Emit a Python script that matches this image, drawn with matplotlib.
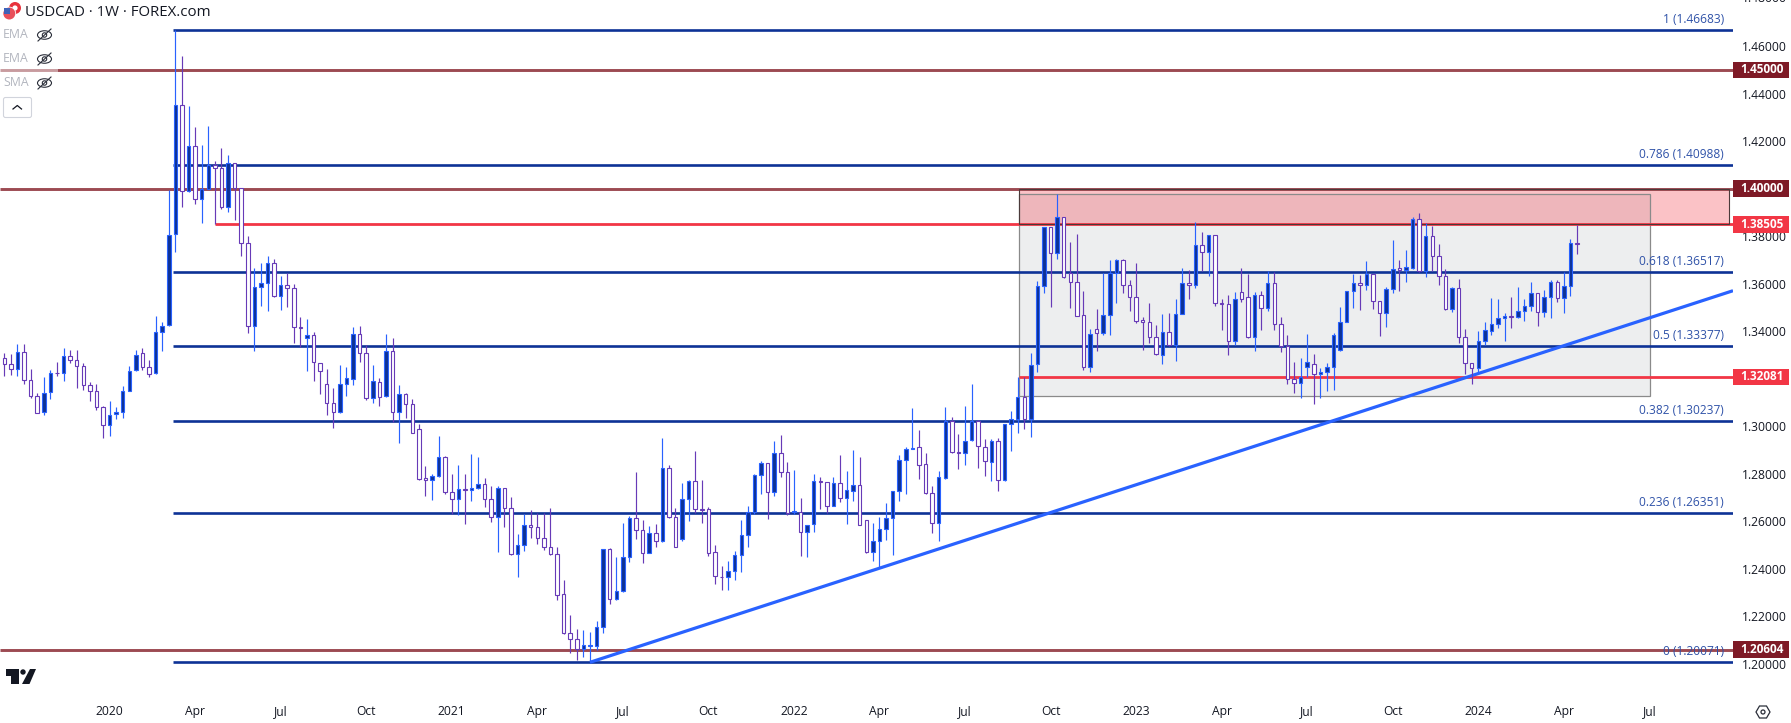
import matplotlib
matplotlib.use('Agg')
import matplotlib.pyplot as plt
from matplotlib.patches import Rectangle, Circle, Ellipse, Polygon, FancyBboxPatch

plt.rcParams['font.family'] = ['Open Sans', 'DejaVu Sans']

opens = [1.3287,1.3262,1.3241,1.3312,1.3194,1.3128,1.3060,1.3144,1.3226,1.3224,
	1.3298,1.3278,1.3253,1.3173,1.3148,1.3081,1.3005,1.3051,1.3062,1.3149,
	1.3236,1.3308,1.3252,1.3224,1.3396,1.3426,1.3809,1.4354,1.3990,1.4178,
	1.3956,1.3999,1.4102,1.4087,1.3925,1.4110,1.4005,1.3771,1.3422,1.3588,
	1.3605,1.3687,1.3548,1.3594,1.3582,1.3418,1.3370,1.3384,1.3266,1.3177,
	1.3097,1.3062,1.3177,1.3201,1.3388,1.3308,1.3121,1.3186,1.3127,1.3319,
	1.3060,1.3135,1.3096,1.2988,1.2781,1.2773,1.2790,1.2870,1.2725,1.2693,
	1.2735,1.2734,1.2739,1.2756,1.2693,1.2617,1.2739,1.2655,1.2461,1.2499,
	1.2583,1.2575,1.2529,1.2494,1.2461,1.2293,1.2129,1.2104,1.2065,1.2077,
	1.2077,1.2157,1.2482,1.2272,1.2309,1.2449,1.2613,1.2562,1.2468,1.2553,
	1.2516,1.2823,1.2617,1.2525,1.2693,1.2769,1.2651,1.2651,1.2470,1.2367,
	1.2365,1.2390,1.2457,1.2541,1.2638,1.2794,1.2844,1.2722,1.2886,1.2807,
	1.2638,1.2641,1.2554,1.2588,1.2769,1.2764,1.2666,1.2760,1.2700,1.2729,
	1.2752,1.2604,1.2473,1.2516,1.2567,1.2613,1.2727,1.2857,1.2906,1.2912,
	1.2840,1.2718,1.2595,1.2784,1.3024,1.2891,1.2886,1.2941,1.3024,1.2915,
	1.2852,1.2937,1.2773,1.3009,1.3033,1.3125,1.3030,1.3261,1.3589,1.3838,
	1.3731,1.3880,1.3644,1.3606,1.3467,1.3251,1.3408,1.3394,1.3467,1.3644,
	1.3699,1.3594,1.3543,1.3446,1.3438,1.3375,1.3299,1.3399,1.3341,1.3474,
	1.3605,1.3596,1.3762,1.3732,1.3804,1.3518,1.3514,1.3361,1.3564,1.3546,
	1.3375,1.3554,1.3497,1.3602,1.3429,1.3340,1.3198,1.3181,1.3248,1.3264,
	1.3219,1.3227,1.3251,1.3320,1.3441,1.3571,1.3602,1.3594,1.3640,1.3526,
	1.3479,1.3577,1.3665,1.3657,1.3667,1.3871,1.3653,1.3800,1.3716,1.3632,
	1.3495,1.3581,1.3378,1.3265,1.3247,1.3358,1.3403,1.3429,1.3455,1.3463,
	1.3459,1.3484,1.3505,1.3560,1.3483,1.3543,1.3606,1.3539,1.3589,1.3770]
closes = [1.3262,1.3241,1.3312,1.3194,1.3126,1.3058,1.3142,1.3226,1.3224,1.3298,
	1.3278,1.3253,1.3173,1.3148,1.3081,1.3005,1.3050,1.3062,1.3151,1.3235,
	1.3302,1.3249,1.3220,1.3396,1.3424,1.3807,1.4354,1.3990,1.4178,1.3956,
	1.3998,1.4102,1.4087,1.3925,1.4110,1.4005,1.3771,1.3422,1.3588,1.3605,
	1.3687,1.3548,1.3594,1.3582,1.3418,1.3412,1.3384,1.3270,1.3232,1.3097,
	1.3062,1.3177,1.3203,1.3388,1.3308,1.3119,1.3189,1.3123,1.3319,1.3060,
	1.3135,1.3093,1.2971,1.2780,1.2773,1.2790,1.2870,1.2725,1.2693,1.2735,
	1.2734,1.2739,1.2756,1.2693,1.2617,1.2739,1.2655,1.2461,1.2499,1.2583,
	1.2575,1.2529,1.2494,1.2461,1.2289,1.2129,1.2104,1.2065,1.2078,1.2078,
	1.2157,1.2482,1.2272,1.2309,1.2449,1.2613,1.2562,1.2468,1.2553,1.2516,
	1.2823,1.2617,1.2494,1.2693,1.2769,1.2651,1.2649,1.2468,1.2369,1.2365,
	1.2390,1.2457,1.2541,1.2638,1.2794,1.2844,1.2722,1.2886,1.2807,1.2637,
	1.2642,1.2554,1.2586,1.2769,1.2767,1.2666,1.2760,1.2700,1.2731,1.2752,
	1.2586,1.2473,1.2516,1.2567,1.2613,1.2727,1.2857,1.2906,1.2910,1.2839,
	1.2718,1.2595,1.2785,1.3024,1.2891,1.2886,1.2940,1.3024,1.2916,1.2853,
	1.2937,1.2773,1.3009,1.3033,1.3125,1.3030,1.3260,1.3589,1.3838,1.3731,
	1.3880,1.3627,1.3606,1.3466,1.3251,1.3387,1.3394,1.3467,1.3644,1.3699,
	1.3593,1.3543,1.3445,1.3438,1.3378,1.3306,1.3399,1.3341,1.3474,1.3605,
	1.3596,1.3762,1.3732,1.3804,1.3518,1.3516,1.3361,1.3537,1.3535,1.3375,
	1.3554,1.3497,1.3602,1.3429,1.3340,1.3198,1.3181,1.3206,1.3272,1.3219,
	1.3227,1.3251,1.3383,1.3441,1.3571,1.3602,1.3594,1.3640,1.3526,1.3479,
	1.3577,1.3664,1.3657,1.3669,1.3871,1.3653,1.3800,1.3716,1.3632,1.3495,
	1.3581,1.3378,1.3265,1.3247,1.3358,1.3404,1.3429,1.3455,1.3463,1.3462,
	1.3484,1.3505,1.3560,1.3483,1.3543,1.3606,1.3539,1.3589,1.3770,1.3768]
highs = [1.3308,1.3305,1.3346,1.3346,1.3242,1.3142,1.3207,1.3238,1.3270,1.3329,
	1.3322,1.3322,1.3266,1.3186,1.3179,1.3084,1.3107,1.3081,1.3172,1.3255,
	1.3322,1.3329,1.3280,1.3465,1.3440,1.3995,1.4668,1.4559,1.4349,1.4260,
	1.4185,1.4265,1.4116,1.4172,1.4143,1.4110,1.4005,1.3802,1.3666,1.3687,
	1.3718,1.3704,1.3633,1.3647,1.3600,1.3459,1.3451,1.3398,1.3266,1.3242,
	1.3162,1.3259,1.3249,1.3420,1.3423,1.3343,1.3259,1.3203,1.3389,1.3372,
	1.3175,1.3142,1.3116,1.3010,1.2833,1.2800,1.2960,1.2875,1.2800,1.2837,
	1.2800,1.2884,1.2872,1.2781,1.2749,1.2749,1.2739,1.2703,1.2547,1.2631,
	1.2648,1.2637,1.2634,1.2656,1.2492,1.2353,1.2206,1.2147,1.2143,1.2135,
	1.2181,1.2482,1.2488,1.2452,1.2592,1.2623,1.2808,1.2606,1.2581,1.2589,
	1.2951,1.2837,1.2656,1.2762,1.2774,1.2896,1.2774,1.2659,1.2501,1.2412,
	1.2432,1.2477,1.2606,1.2665,1.2799,1.2854,1.2847,1.2938,1.2964,1.2850,
	1.2816,1.2698,1.2586,1.2800,1.2785,1.2764,1.2785,1.2879,1.2812,1.2900,
	1.2871,1.2606,1.2592,1.2618,1.2677,1.2728,1.2878,1.2914,1.3076,1.2985,
	1.2886,1.2749,1.2812,1.3080,1.3038,1.2968,1.3086,1.3178,1.3027,1.2945,
	1.2945,1.2950,1.3009,1.3065,1.3206,1.3206,1.3307,1.3612,1.3838,1.3838,
	1.3978,1.3880,1.3776,1.3810,1.3570,1.3410,1.3494,1.3647,1.3700,1.3704,
	1.3704,1.3616,1.3686,1.3462,1.3518,1.3427,1.3473,1.3476,1.3535,1.3667,
	1.3658,1.3860,1.3818,1.3804,1.3804,1.3535,1.3551,1.3566,1.3667,1.3641,
	1.3566,1.3568,1.3652,1.3650,1.3460,1.3385,1.3271,1.3288,1.3389,1.3305,
	1.3246,1.3268,1.3392,1.3502,1.3571,1.3641,1.3637,1.3696,1.3640,1.3526,
	1.3585,1.3784,1.3700,1.3742,1.3883,1.3898,1.3855,1.3843,1.3768,1.3662,
	1.3585,1.3620,1.3408,1.3265,1.3400,1.3441,1.3539,1.3536,1.3476,1.3543,
	1.3585,1.3535,1.3606,1.3560,1.3574,1.3616,1.3616,1.3650,1.3789,1.3848]
lows = [1.3214,1.3217,1.3210,1.3177,1.3121,1.3055,1.3046,1.3117,1.3214,1.3193,
	1.3266,1.3163,1.3154,1.3105,1.3067,1.2953,1.2961,1.3033,1.3037,1.3148,
	1.3235,1.3239,1.3206,1.3222,1.3319,1.3424,1.3732,1.3925,1.3988,1.3934,
	1.3858,1.3998,1.3852,1.3914,1.3904,1.3869,1.3715,1.3395,1.3319,1.3507,
	1.3487,1.3546,1.3490,1.3504,1.3353,1.3336,1.3235,1.3193,1.3137,1.3050,
	1.2995,1.3055,1.3128,1.3175,1.3269,1.3112,1.3100,1.3084,1.3125,1.3020,
	1.2932,1.3037,1.2971,1.2774,1.2707,1.2690,1.2788,1.2717,1.2631,1.2627,
	1.2589,1.2687,1.2738,1.2662,1.2598,1.2471,1.2578,1.2460,1.2367,1.2477,
	1.2530,1.2505,1.2480,1.2460,1.2269,1.2128,1.2048,1.2017,1.2031,1.2007,
	1.2059,1.2132,1.2252,1.2271,1.2303,1.2429,1.2526,1.2425,1.2467,1.2492,
	1.2515,1.2616,1.2492,1.2518,1.2603,1.2634,1.2595,1.2456,1.2336,1.2311,
	1.2311,1.2353,1.2387,1.2494,1.2633,1.2715,1.2611,1.2708,1.2788,1.2625,
	1.2631,1.2456,1.2452,1.2557,1.2652,1.2634,1.2665,1.2682,1.2589,1.2687,
	1.2585,1.2468,1.2433,1.2409,1.2522,1.2459,1.2686,1.2715,1.2903,1.2778,
	1.2717,1.2551,1.2517,1.2780,1.2889,1.2821,1.2839,1.2940,1.2826,1.2793,
	1.2772,1.2729,1.2772,1.2896,1.2974,1.2988,1.2957,1.3230,1.3563,1.3504,
	1.3706,1.3626,1.3500,1.3466,1.3237,1.3229,1.3319,1.3384,1.3384,1.3518,
	1.3563,1.3487,1.3436,1.3321,1.3352,1.3300,1.3263,1.3340,1.3277,1.3473,
	1.3536,1.3582,1.3655,1.3633,1.3507,1.3406,1.3300,1.3341,1.3523,1.3373,
	1.3317,1.3406,1.3487,1.3406,1.3313,1.3178,1.3142,1.3119,1.3206,1.3094,
	1.3119,1.3150,1.3153,1.3319,1.3439,1.3497,1.3490,1.3574,1.3494,1.3380,
	1.3420,1.3563,1.3571,1.3609,1.3662,1.3651,1.3630,1.3655,1.3596,1.3490,
	1.3483,1.3350,1.3220,1.3178,1.3226,1.3342,1.3385,1.3415,1.3359,1.3415,
	1.3458,1.3445,1.3486,1.3424,1.3462,1.3456,1.3525,1.3479,1.3549,1.3726]

fib_ratios = ['1', '0.786', '0.618', '0.5', '0.382', '0.236', '0']
fib_levels = [1.46683, 1.40988, 1.36517, 1.33377, 1.30237, 1.26351, 1.20071]
fib_start = 26
brown_levels = [1.45, 1.40, 1.20604]
red_levels = [1.38505, 1.32081]
red_starts = [32, 154.2]
trend_bars = [89, 262.7]
trend_prices = [1.20071, 1.3571]
range_box = [154.2, 250.1, 1.31266, 1.39768] # bar from, bar to, price low, price high
zone_box = [154.2, 262.1, 1.38505, 1.40]

price_ticks = [1.20, 1.22, 1.24, 1.26, 1.28, 1.30, 1.32, 1.34, 1.36, 1.38, 1.40, 1.42, 1.44, 1.46]
time_ticks = [16 + 13 * i for i in range(19)]
time_labels = ['2020', 'Apr', 'Jul', 'Oct', '2021', 'Apr', 'Jul', 'Oct', '2022', 'Apr', 'Jul', 'Oct',
	'2023', 'Apr', 'Jul', 'Oct', '2024', 'Apr', 'Jul']
tag_levels = [1.45, 1.40, 1.38505, 1.32081, 1.20604]
tag_colors = ['#7e1a26', '#7e1a26', '#f23645', '#f23645', '#7e1a26']

FIB = '#0d3296'
BROWN = '#9c4a52'
RED = '#f23645'
UP_EDGE = '#2962ff'
DOWN_EDGE = '#673ab7'
TEXT = '#131722'

W, H = 1791, 723
PANE_W, PANE_H = 1733, 685

fig = plt.figure(figsize=(W / 100, H / 100), dpi=100)
ax = fig.add_axes([0, 1 - PANE_H / H, PANE_W / W, PANE_H / H])
ax.set_xlim(-0.65, 262.7)
ax.set_ylim(1.19116, 1.47945)
for s in ax.spines.values():
	s.set_visible(False)

# boxes sit under the lines and candles
ax.add_patch(Rectangle((range_box[0], range_box[2]), range_box[1] - range_box[0], range_box[3] - range_box[2],
	facecolor='#9598a1', alpha=0.16, edgecolor='none', zorder=1))
ax.add_patch(Rectangle((range_box[0], range_box[2]), range_box[1] - range_box[0], range_box[3] - range_box[2],
	facecolor='none', edgecolor='#8a8a8a', linewidth=0.9, zorder=1.5))
ax.add_patch(Rectangle((zone_box[0], zone_box[2]), zone_box[1] - zone_box[0], zone_box[3] - zone_box[2],
	facecolor=RED, alpha=0.3, edgecolor='none', zorder=1.1))
ax.add_patch(Rectangle((zone_box[0], zone_box[2]), zone_box[1] - zone_box[0], zone_box[3] - zone_box[2],
	facecolor='none', edgecolor='#4a3a3a', linewidth=0.8, zorder=2.5))

ax.hlines(fib_levels, fib_start - 0.4, 262.7, color=FIB, linewidth=1.9, zorder=2)
ax.hlines(brown_levels, -0.65, 262.7, color=BROWN, linewidth=2.1, zorder=2)
ax.hlines(red_levels, red_starts, 262.7, color=RED, linewidth=2.0, zorder=2)
ax.plot(trend_bars, trend_prices, color=UP_EDGE, linewidth=2.3, zorder=2.2, solid_capstyle='butt')

bars = list(range(len(opens)))
wick_colors = [UP_EDGE if closes[i] >= opens[i] else DOWN_EDGE for i in bars]
face_colors = [FIB if closes[i] >= opens[i] else 'white' for i in bars]
ax.vlines(bars, lows, highs, colors=wick_colors, linewidth=0.85, zorder=3)
ax.bar(bars, [abs(closes[i] - opens[i]) for i in bars], bottom=[min(opens[i], closes[i]) for i in bars],
	width=0.53, color=face_colors, edgecolor=wick_colors, linewidth=0.8, zorder=4)

for r, v in zip(fib_ratios, fib_levels):
	ax.annotate('%s (%.5f)' % (r, v), xy=(262.7, v), xytext=(-6.5, 7.5), textcoords='offset points',
		ha='right', va='center', fontsize=8.6, color='#2f52a8', zorder=6)

ax.yaxis.tick_right()
ax.set_yticks(price_ticks)
ax.set_yticklabels(['%.5f' % p for p in price_ticks], fontsize=8.7, color=TEXT)
ax.tick_params(axis='y', length=0, pad=6.2)
ax.set_xticks(time_ticks)
ax.set_xticklabels(time_labels, fontsize=8.7, color=TEXT)
ax.tick_params(axis='x', length=0, pad=14.2)
ax.text(1.0052, 1.48, '1.48000', transform=ax.get_yaxis_transform(), fontsize=8.7, color=TEXT, va='center',
	ha='left', clip_on=False)

# price tags on the scale
tag_h = 16.7 / 2376.0
for v, c in zip(tag_levels, tag_colors):
	ax.add_patch(Rectangle((1.0, v - tag_h / 2), 56.0 / PANE_W, tag_h, transform=ax.get_yaxis_transform(),
		facecolor=c, edgecolor='none', clip_on=False, zorder=7))
	ax.text(1.0 + 28.5 / PANE_W, v, '%.5f' % v, transform=ax.get_yaxis_transform(), ha='center', va='center',
		fontsize=8.5, fontweight='bold', color='white', zorder=8, clip_on=False)

# window furniture, in pixel coordinates
ov = fig.add_axes([0, 0, 1, 1], facecolor='none')
ov.set_xlim(0, W)
ov.set_ylim(H, 0)
ov.axis('off')
ov.set_zorder(5)

ov.add_patch(Circle((15, 8), 6, facecolor='#e8323c', edgecolor='none'))
ov.add_patch(Circle((15, 8), 2.6, facecolor='white', edgecolor='none'))
ov.add_patch(Circle((9.3, 13.5), 6.8, facecolor='white', edgecolor='none'))
ov.add_patch(Circle((9.3, 13.5), 6, facecolor='#e8505a', edgecolor='none'))
ov.add_patch(Rectangle((3.5, 8), 6, 6, facecolor='#3f62b8', edgecolor='none'))
ov.text(25, 12.3, 'USDCAD · 1W · FOREX.com', fontsize=10.8, color=TEXT, ha='left', va='center')

for y, name in zip([35, 59, 83], ['EMA', 'EMA', 'SMA']):
	ov.text(3, y, name, fontsize=8.8, color='#b2b5be', ha='left', va='center')
	ov.add_patch(Ellipse((44.5, y), 14, 8.5, facecolor='none', edgecolor='#2a2e39', linewidth=0.8))
	ov.add_patch(Circle((44.5, y), 2.2, facecolor='none', edgecolor='#2a2e39', linewidth=0.8))
	ov.plot([38, 51], [y + 6, y - 6], color='#2a2e39', linewidth=0.8)

ov.add_patch(Rectangle((0, 66.5), 58, 7, facecolor='white', alpha=0.45, edgecolor='none'))
ov.add_patch(FancyBboxPatch((4.5, 98.5), 26, 18, boxstyle='round,pad=1,rounding_size=2', facecolor='white',
	edgecolor='#d1d4dc', linewidth=0.8))
ov.plot([13, 17.3, 21.5], [109, 105.5, 109], color='#131722', linewidth=0.9)

# logo bottom left
ov.add_patch(Polygon([(6, 669), (18.5, 669), (18.5, 684), (11, 684), (11, 676), (6, 676)], facecolor=TEXT, edgecolor='none'))
ov.add_patch(Circle((23, 672), 2.7, facecolor=TEXT, edgecolor='none'))
ov.add_patch(Polygon([(30, 669), (36, 669), (29.5, 684), (22, 684)], facecolor=TEXT, edgecolor='none'))

# settings hexagon bottom right
ov.add_patch(Polygon([(1756, 712), (1759.5, 706), (1766.5, 706), (1770, 712), (1766.5, 718), (1759.5, 718)],
	facecolor='none', edgecolor='#2a2e39', linewidth=0.9))
ov.add_patch(Circle((1763, 712), 2, facecolor='none', edgecolor='#2a2e39', linewidth=0.9))

fig.savefig('out.png', dpi=100, facecolor='white')
